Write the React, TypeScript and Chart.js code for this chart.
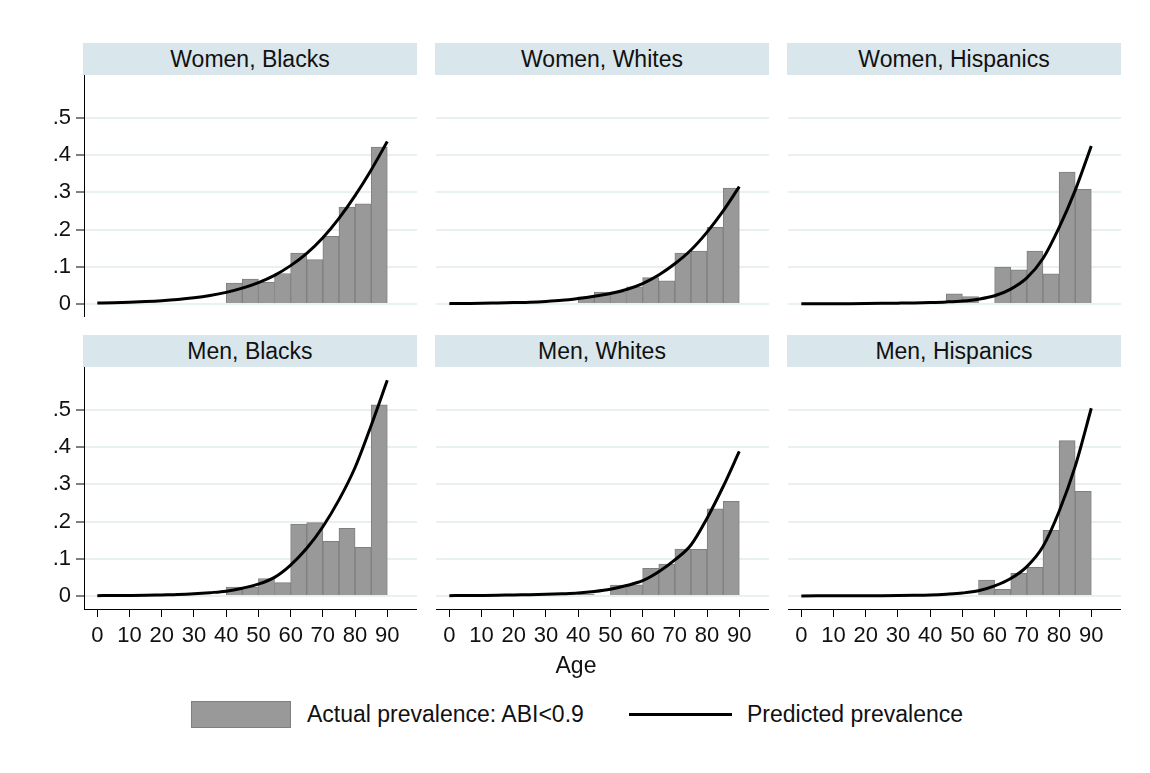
import React, { useEffect, useRef } from 'react';
import { Chart, registerables } from 'chart.js';

Chart.register(...registerables);

// ---------- data ----------
const ageBinStarts = [40, 45, 50, 55, 60, 65, 70, 75, 80, 85];
const curveAges = [0, 5, 10, 15, 20, 25, 30, 35, 40, 45, 50, 55, 60, 65, 70, 75, 80, 85, 90];
const xTickValues = [0, 10, 20, 30, 40, 50, 60, 70, 80, 90];
const yTickValues = [0, 0.1, 0.2, 0.3, 0.4, 0.5];
const yTickLabels = ['0', '.1', '.2', '.3', '.4', '.5'];

const panelTitles = [
  'Women, Blacks',
  'Women, Whites',
  'Women, Hispanics',
  'Men, Blacks',
  'Men, Whites',
  'Men, Hispanics',
];

const womenBlacksActual = [0.056, 0.067, 0.059, 0.082, 0.137, 0.119, 0.182, 0.26, 0.269, 0.421];
const womenBlacksPredicted = [0.0025, 0.0035, 0.0048, 0.0066, 0.009, 0.0123, 0.0168, 0.023, 0.0313, 0.0425, 0.0575, 0.077, 0.103, 0.136, 0.178, 0.23, 0.291, 0.36, 0.436];

const womenWhitesActual = [0.019, 0.032, 0.033, 0.046, 0.071, 0.062, 0.137, 0.142, 0.206, 0.311];
const womenWhitesPredicted = [0.001, 0.0015, 0.002, 0.003, 0.004, 0.005, 0.007, 0.01, 0.015, 0.021, 0.028, 0.039, 0.055, 0.078, 0.108, 0.145, 0.193, 0.25, 0.315];

const womenHispanicsActual = [0.003, 0.027, 0.02, null, 0.099, 0.092, 0.142, 0.081, 0.354, 0.308];
const womenHispanicsPredicted = [0.0005, 0.0006, 0.0008, 0.001, 0.0013, 0.0017, 0.0023, 0.003, 0.004, 0.0055, 0.008, 0.013, 0.022, 0.04, 0.07, 0.122, 0.205, 0.305, 0.424];

const menBlacksActual = [0.024, 0.024, 0.047, 0.036, 0.193, 0.197, 0.147, 0.182, 0.131, 0.513];
const menBlacksPredicted = [0.001, 0.0012, 0.0015, 0.002, 0.003, 0.004, 0.006, 0.009, 0.013, 0.021, 0.032, 0.05, 0.083, 0.128, 0.186, 0.258, 0.345, 0.458, 0.579];

const menWhitesActual = [0.005, null, 0.029, 0.03, 0.074, 0.086, 0.126, 0.125, 0.234, 0.254];
const menWhitesPredicted = [0.001, 0.0012, 0.0015, 0.002, 0.003, 0.0035, 0.0045, 0.006, 0.008, 0.012, 0.018, 0.028, 0.041, 0.065, 0.097, 0.137, 0.209, 0.294, 0.388];

const menHispanicsActual = [null, null, null, 0.043, 0.018, 0.061, 0.077, 0.176, 0.417, 0.281];
const menHispanicsPredicted = [0.0003, 0.0004, 0.0005, 0.0006, 0.0008, 0.001, 0.0014, 0.002, 0.003, 0.005, 0.008, 0.014, 0.027, 0.047, 0.079, 0.133, 0.227, 0.348, 0.504];

const actualSeries = [womenBlacksActual, womenWhitesActual, womenHispanicsActual, menBlacksActual, menWhitesActual, menHispanicsActual];
const predictedSeries = [womenBlacksPredicted, womenWhitesPredicted, womenHispanicsPredicted, menBlacksPredicted, menWhitesPredicted, menHispanicsPredicted];

const xAxisTitle = 'Age';
const legendBarLabel = 'Actual prevalence: ABI<0.9';
const legendLineLabel = 'Predicted prevalence';

// ---------- layout / style ----------
const FONT = '"Liberation Sans", Arial, Helvetica, sans-serif';
const COL_LEFT = [84, 436, 788];
const PLOT_W = 333;
const BAND_TOP = [43, 335];
const BAND_H = 32;
const PLOT_H = 242;
const X_AXIS_H = 51;
const X_MIN = -4.13;
const X_MAX = 99.22;
const Y_MIN = -0.0349;
const Y_MAX = 0.6148;
const BAR_FILL = '#999999';
const BAR_EDGE = '#7f7f7f';
const GRID = '#e8f0f2';
const BAND = '#d9e6eb';
const TEXT = '#111111';

Chart.defaults.font.family = FONT;

function Panel({ index }: { index: number }) {
  const ref = useRef<HTMLCanvasElement | null>(null);
  const col = index % 3;
  const row = Math.floor(index / 3);
  const showY = col === 0;
  const showX = row === 1;
  const plotLeft = COL_LEFT[col];
  const plotTop = BAND_TOP[row] + BAND_H;
  const canvasLeft = showY ? 0 : plotLeft;
  const yAxisW = plotLeft - canvasLeft;
  const canvasW = plotLeft + PLOT_W - canvasLeft;
  const canvasH = PLOT_H + (showX ? X_AXIS_H : 0);
  const actual = actualSeries[index];
  const predicted = predictedSeries[index];

  useEffect(() => {
    if (!ref.current) return;
    const chart = new Chart(ref.current, {
      type: 'bar',
      data: {
        datasets: [
          {
            type: 'line',
            label: legendLineLabel,
            data: curveAges.map((a, i) => ({ x: a, y: predicted[i] })),
            borderColor: '#000000',
            backgroundColor: '#000000',
            borderWidth: 3,
            pointRadius: 0,
            pointHoverRadius: 0,
            cubicInterpolationMode: 'monotone',
            fill: false,
            order: 1,
          } as any,
          {
            type: 'bar',
            label: legendBarLabel,
            data: ageBinStarts.map((a, i) => ({ x: a + 2.5, y: actual[i] })),
            backgroundColor: BAR_FILL,
            borderColor: BAR_EDGE,
            borderWidth: 1,
            barPercentage: 1,
            categoryPercentage: 1,
            order: 2,
          } as any,
        ],
      },
      options: {
        responsive: false,
        animation: false,
        events: [],
        layout: { padding: 0, autoPadding: false },
        plugins: { legend: { display: false }, tooltip: { enabled: false }, title: { display: false } },
        scales: {
          x: {
            type: 'linear',
            min: X_MIN,
            max: X_MAX,
            offset: false,
            display: showX,
            grid: { display: true, drawOnChartArea: false, drawTicks: true, tickLength: 8, tickColor: '#000', tickWidth: 1, offset: false },
            border: { display: true, color: '#000', width: 1 },
            ticks: {
              font: { size: 22, family: FONT },
              color: TEXT,
              padding: 6,
              maxRotation: 0,
              autoSkip: false,
              callback: (v: any) => String(v),
            },
            afterBuildTicks: (s: any) => {
              s.ticks = xTickValues.map((v) => ({ value: v }));
            },
            afterFit: (s: any) => {
              s.height = showX ? X_AXIS_H : 0;
              s.paddingLeft = 0;
              s.paddingRight = 0;
              s.paddingTop = 0;
              s.paddingBottom = 0;
            },
          },
          y: {
            type: 'linear',
            min: Y_MIN,
            max: Y_MAX,
            display: true,
            grid: { color: GRID, lineWidth: 2, drawTicks: showY, tickLength: 8, tickColor: '#000', tickWidth: 1 },
            border: { display: showY, color: '#000', width: 1 },
            ticks: {
              display: showY,
              font: { size: 22, family: FONT },
              color: TEXT,
              padding: 5,
              autoSkip: false,
              callback: (v: any) => {
                const i = yTickValues.findIndex((t) => Math.abs(t - Number(v)) < 1e-9);
                return i >= 0 ? yTickLabels[i] : '';
              },
            },
            afterBuildTicks: (s: any) => {
              s.ticks = yTickValues.map((v) => ({ value: v }));
            },
            afterFit: (s: any) => {
              s.width = yAxisW;
              s.paddingLeft = 0;
              s.paddingRight = 0;
              s.paddingTop = 0;
              s.paddingBottom = 0;
            },
          },
        },
      } as any,
    });
    return () => chart.destroy();
  }, []);

  return (
    <>
      <div
        style={{
          position: 'absolute',
          left: plotLeft - 1,
          top: BAND_TOP[row],
          width: PLOT_W + 1,
          height: BAND_H,
          background: BAND,
          color: TEXT,
          fontSize: 23,
          lineHeight: `${BAND_H}px`,
          textAlign: 'center',
          whiteSpace: 'nowrap',
        }}
      >
        {panelTitles[index]}
      </div>
      <canvas
        ref={ref}
        width={canvasW}
        height={canvasH}
        style={{ position: 'absolute', left: canvasLeft, top: plotTop, width: canvasW, height: canvasH, display: 'block' }}
      />
    </>
  );
}

export default function App() {
  return (
    <div
      style={{
        position: 'absolute',
        left: 0,
        top: 0,
        width: 1150,
        height: 773,
        background: '#ffffff',
        fontFamily: FONT,
        overflow: 'hidden',
      }}
    >
      {[0, 1, 2, 3, 4, 5].map((i) => (
        <Panel key={i} index={i} />
      ))}
      <div
        style={{
          position: 'absolute',
          left: 476,
          width: 200,
          top: 650,
          height: 30,
          lineHeight: '30px',
          fontSize: 23,
          textAlign: 'center',
          color: TEXT,
        }}
      >
        {xAxisTitle}
      </div>
      <div
        style={{
          position: 'absolute',
          left: 191,
          top: 701,
          width: 98,
          height: 25,
          background: BAR_FILL,
          border: `1px solid ${BAR_EDGE}`,
        }}
      />
      <div
        style={{
          position: 'absolute',
          left: 307,
          top: 699,
          height: 30,
          lineHeight: '30px',
          fontSize: 23,
          color: TEXT,
          whiteSpace: 'nowrap',
        }}
      >
        {legendBarLabel}
      </div>
      <div style={{ position: 'absolute', left: 629, top: 713, width: 103, height: 3, background: '#000' }} />
      <div
        style={{
          position: 'absolute',
          left: 747,
          top: 699,
          height: 30,
          lineHeight: '30px',
          fontSize: 23,
          color: TEXT,
          whiteSpace: 'nowrap',
        }}
      >
        {legendLineLabel}
      </div>
    </div>
  );
}
